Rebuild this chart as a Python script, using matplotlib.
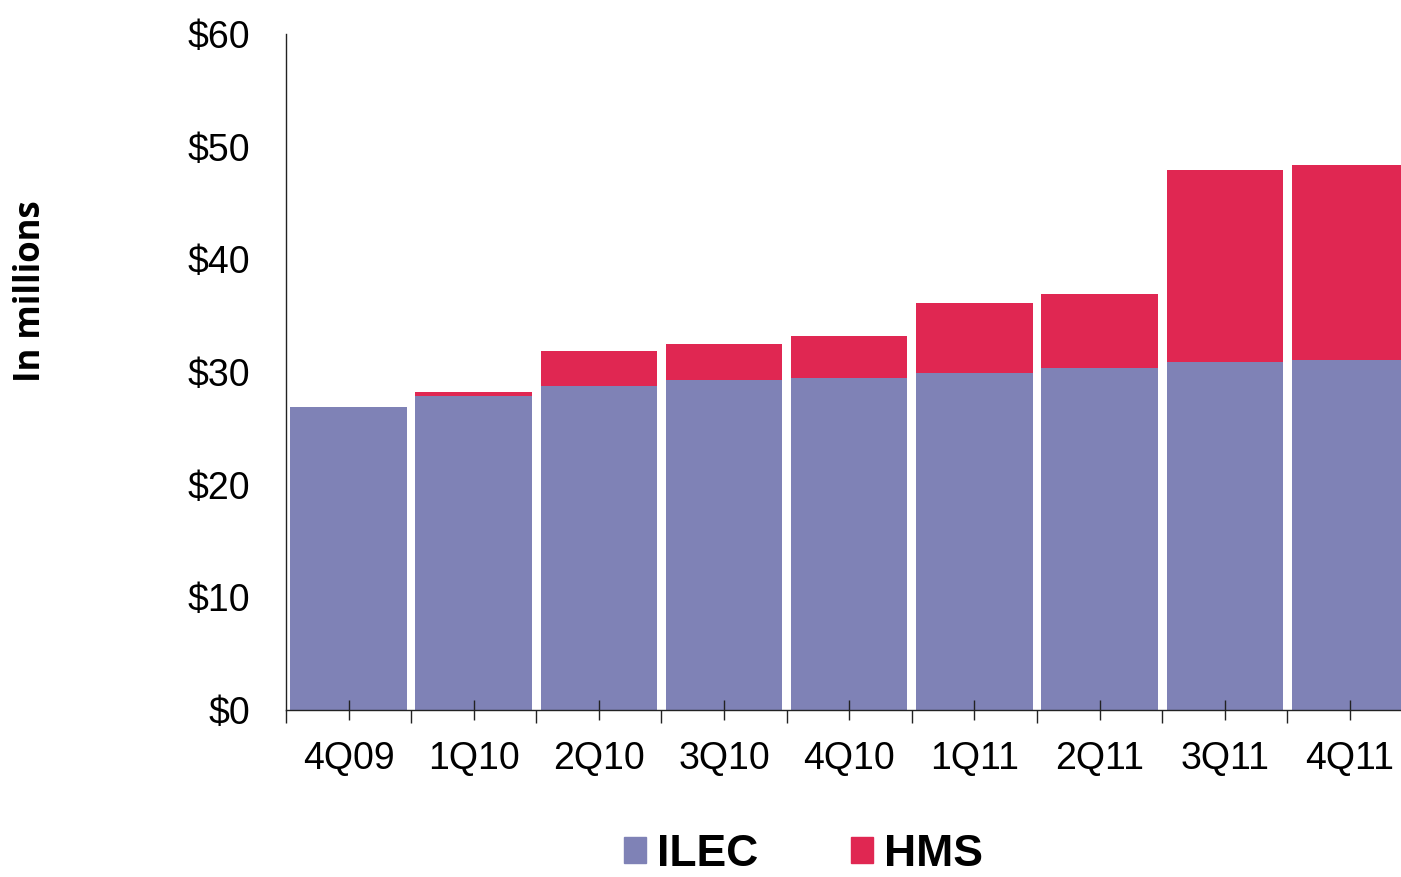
import matplotlib.pyplot as plt
import numpy as np
from matplotlib.patches import Patch

# Quarterly revenue split by segment, in $ millions
quarters = ['4Q09', '1Q10', '2Q10', '3Q10', '4Q10', '1Q11', '2Q11', '3Q11', '4Q11']
ilec = [26.9, 27.9, 28.8, 29.3, 29.5, 29.9, 30.4, 30.9, 31.1]
hms = [0.0, 0.3, 3.1, 3.2, 3.7, 6.2, 6.5, 17.0, 17.3]
yticks = [0, 10, 20, 30, 40, 50, 60]

ilec_color = '#7F82B6'
hms_color = '#E02752'

fig = plt.figure(figsize=(14.01, 8.77), dpi=100)
# axes run slightly past the right edge of the figure
ax = fig.add_axes([0.2041, 0.1904, 0.8041, 0.7708])

x = np.arange(len(quarters))
width = 0.93
ax.bar(x, ilec, width, color=ilec_color, label='ILEC')
ax.bar(x, hms, width, bottom=ilec, color=hms_color, label='HMS')

ax.set_xlim(-0.5, len(quarters) - 0.5)
ax.set_ylim(0, 60)

ax.spines['top'].set_visible(False)
ax.spines['right'].set_visible(False)
for s in ['left', 'bottom']:
    ax.spines[s].set_color('#222222')
    ax.spines[s].set_linewidth(1.0)

ax.set_yticks(yticks)
ax.set_yticklabels(['$%d' % v for v in yticks], fontsize=27, family='Liberation Sans')
ax.tick_params(axis='y', length=0, pad=26)

ax.set_xticks(x)
ax.set_xticklabels(quarters, fontsize=27, family='Liberation Sans')
ax.set_xticks(np.arange(len(quarters) + 1) - 0.5, minor=True)
ax.tick_params(axis='x', which='major', direction='inout', length=14, width=1, color='#222222', pad=15)
ax.tick_params(axis='x', which='minor', direction='out', length=9, width=1, color='#222222')

fig.text(0.022, 0.668, 'In millions', rotation=90, ha='center', va='center',
         fontsize=25, fontweight='bold', family='Open Sans')

handles = [Patch(color=ilec_color, label='ILEC'), Patch(color=hms_color, label='HMS')]
fig.legend(handles=handles, loc='center', bbox_to_anchor=(0.5735, 0.026), ncol=2,
           frameon=False, handlelength=0.5, handleheight=0.52, handletextpad=0.26,
           columnspacing=2.07, prop={'family': 'Liberation Sans', 'weight': 'bold', 'size': 32})

fig.savefig('out.png', dpi=100)
